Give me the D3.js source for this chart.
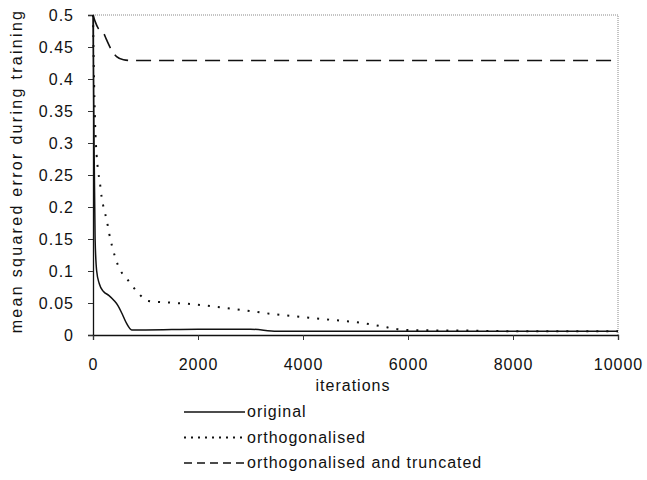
<!DOCTYPE html>
<html>
<head>
<meta charset="utf-8">
<script src="https://cdn.jsdelivr.net/npm/d3@7"></script>
<style>
  body { margin: 0; background: #fff; }
  text { font-family: "Liberation Sans", Arial, sans-serif; fill: #111; }
</style>
</head>
<body>
<svg id="chart" width="647" height="480"></svg>
<script>
// values
const origIter = [0, 10, 20, 40, 70, 120, 200, 300, 400, 475, 550, 640, 737, 1000, 2000, 3000, 3500, 5000, 7000, 10000];
const origMse  = [0.5, 0.4, 0.3, 0.15, 0.1, 0.08, 0.068, 0.062, 0.054, 0.046, 0.034, 0.018, 0.008, 0.008, 0.009, 0.009, 0.006, 0.006, 0.006, 0.006];

const orthIter = [0, 15, 40, 70, 100, 133, 165, 200, 260, 310, 360, 420, 515, 640, 737, 895, 1055, 1400, 1900, 2250, 2850, 3500, 4000, 4500, 5100, 5600, 5800, 6150, 7000, 8000, 10000];
const orthMse  = [0.5, 0.42, 0.33, 0.28, 0.255, 0.237, 0.215, 0.2, 0.18, 0.158, 0.14, 0.122, 0.102, 0.0885, 0.078, 0.0625, 0.053, 0.051, 0.048, 0.045, 0.039, 0.032, 0.028, 0.024, 0.019, 0.012, 0.009, 0.0075, 0.007, 0.006, 0.006];

const truncIter = [0, 40, 100, 200, 260, 355, 450, 580, 700, 10000];
const truncMse  = [0.5, 0.49, 0.479, 0.472, 0.461, 0.445, 0.435, 0.43, 0.429, 0.429];

const xTicks = [0, 2000, 4000, 6000, 8000, 10000];
const yTicks = [0, 0.05, 0.1, 0.15, 0.2, 0.25, 0.3, 0.35, 0.4, 0.45, 0.5];
const yTickLabels = ['0', '0.05', '0.1', '0.15', '0.2', '0.25', '0.3', '0.35', '0.4', '0.45', '0.5'];

const seriesNames = ['original', 'orthogonalised', 'orthogonalised and truncated'];

const svg = d3.select('#chart');
const L = 93, R = 618, T = 15, B = 335;

const x = d3.scaleLinear().domain([0, 10000]).range([L, R]);
const y = d3.scaleLinear().domain([0, 0.5]).range([B, T]);

// plot area border (top/right light dotted)
svg.append('path')
  .attr('d', `M${L},${T}H${R}V${B}`)
  .attr('fill', 'none')
  .attr('stroke', '#888')
  .attr('stroke-width', 1)
  .attr('stroke-dasharray', '1,1');

const yAxis = svg.append('g')
  .attr('transform', `translate(${L},0)`)
  .call(d3.axisLeft(y).tickValues(yTicks).tickFormat((d, i) => yTickLabels[i]).tickSize(5).tickPadding(14));
const xAxis = svg.append('g')
  .attr('transform', `translate(0,${B})`)
  .call(d3.axisBottom(x).tickValues(xTicks).tickFormat(d3.format('d')).tickSize(5).tickPadding(19));

[yAxis, xAxis].forEach(g => {
  g.select('.domain').attr('stroke', '#111').attr('stroke-width', 1.3);
  g.selectAll('.tick line').attr('stroke', '#333');
  g.selectAll('text')
    .attr('font-size', 16)
    .attr('letter-spacing', 1)
    .attr('fill', '#111');
});

const line = d3.line().x(d => x(d[0])).y(d => y(d[1])).curve(d3.curveMonotoneX);

const series = [
  { it: origIter, v: origMse, dash: null, w: 1.5 },
  { it: orthIter, v: orthMse, dash: '2,8', w: 2 },
  { it: truncIter, v: truncMse, dash: '15,8', w: 1.6 }
];

series.forEach(s => {
  svg.append('path')
    .datum(d3.zip(s.it, s.v))
    .attr('d', line)
    .attr('fill', 'none')
    .attr('stroke', '#111')
    .attr('stroke-width', s.w)
    .attr('stroke-dasharray', s.dash);
});

// axis titles
svg.append('text')
  .attr('x', 353).attr('y', 391)
  .attr('text-anchor', 'middle')
  .attr('font-size', 16)
  .attr('letter-spacing', 1)
  .text('iterations');

svg.append('text')
  .attr('transform', `translate(22,171) rotate(-90)`)
  .attr('text-anchor', 'middle')
  .attr('font-size', 16)
  .attr('letter-spacing', 2.3)
  .text('mean squared error during training');

// legend
const legDash = [null, '2,5', '8,5'];
const leg = svg.append('g');
seriesNames.forEach((name, i) => {
  const cy = 411 + i * 25.5;
  leg.append('line')
    .attr('x1', 184).attr('x2', 245)
    .attr('y1', cy + 1).attr('y2', cy + 1)
    .attr('stroke', '#111')
    .attr('stroke-width', i === 1 ? 2 : 1.4)
    .attr('stroke-dasharray', legDash[i]);
  leg.append('text')
    .attr('x', 247).attr('y', cy + 6)
    .attr('font-size', 16)
    .attr('letter-spacing', 1)
    .text(name);
});
</script>
</body>
</html>
